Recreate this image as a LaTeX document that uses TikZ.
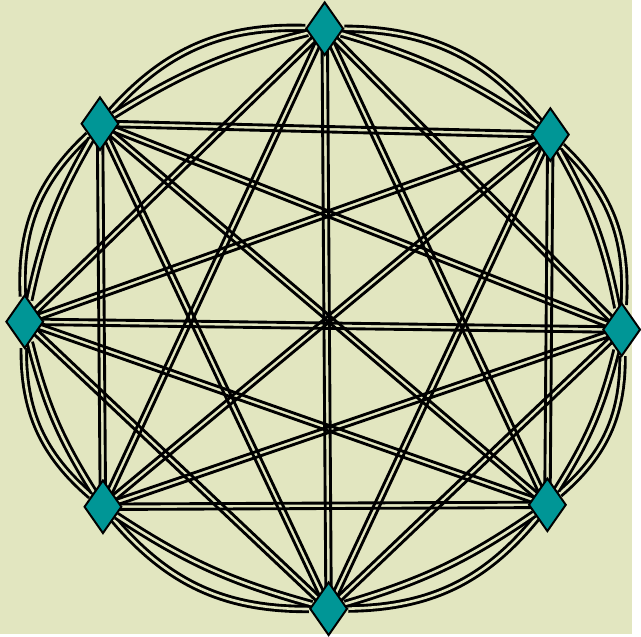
\documentclass[tikz,border=0pt]{standalone}
\usepackage{tikz}
\usetikzlibrary{shapes,calc,backgrounds}
\definecolor{paper}{RGB}{226,230,192}
\definecolor{gem}{RGB}{0,150,150}

\begin{document}
\begin{tikzpicture}[x=1pt,y=1pt,
                    vertex/.style={diamond,draw,line width=2pt,fill=gem,
                    minimum width=38pt,minimum height=54pt,inner sep=0pt},
                    rim/.style={line width=2.9pt,double=paper,double distance=2.6pt},
                    twin/.style={line width=2.9pt,to path={
                      ($(\tikztostart)!2.75pt!90:(\tikztotarget)$) -- ($(\tikztotarget)!2.75pt!-90:(\tikztostart)$)
                      ($(\tikztostart)!2.75pt!-90:(\tikztotarget)$) -- ($(\tikztotarget)!2.75pt!90:(\tikztostart)$)}}]

\node[vertex] (N)  at (328,612) {};
\node[vertex] (NE) at (556,505) {};
\node[vertex] (E)  at (628,308) {};
\node[vertex] (SE) at (553,131) {};
\node[vertex] (S)  at (332,26)  {};
\node[vertex] (SW) at (104,129) {};
\node[vertex] (W)  at (25,316)  {};
\node[vertex] (NW) at (101,516) {};

\begin{pgfonlayer}{background}
\path[use as bounding box,fill=paper] (0,0) rectangle (638,641);

% rim between neighbours
\path[every edge/.style={draw,rim}]
    (N)  edge [bend left=25] (NE) edge [bend left=9] (NE)
    (NE) edge [bend left=25] (E)  edge [bend left=9] (E)
    (E)  edge [bend left=25] (SE) edge [bend left=9] (SE)
    (SE) edge [bend left=25] (S)  edge [bend left=9] (S)
    (S)  edge [bend left=25] (SW) edge [bend left=9] (SW)
    (SW) edge [bend left=25] (W)  edge [bend left=9] (W)
    (W)  edge [bend left=25] (NW) edge [bend left=9] (NW)
    (NW) edge [bend left=25] (N)  edge [bend left=9] (N);

% chords
\path[every edge/.style={draw,twin}]
    (N)  edge (E) edge (SE) edge (S) edge (SW) edge (W)
    (NE) edge (SE) edge (S) edge (SW) edge (W) edge (NW)
    (E)  edge (S) edge (SW) edge (W) edge (NW)
    (SE) edge (SW) edge (W) edge (NW)
    (S)  edge (W) edge (NW)
    (SW) edge (NW);
\end{pgfonlayer}

\end{tikzpicture}
\end{document}
